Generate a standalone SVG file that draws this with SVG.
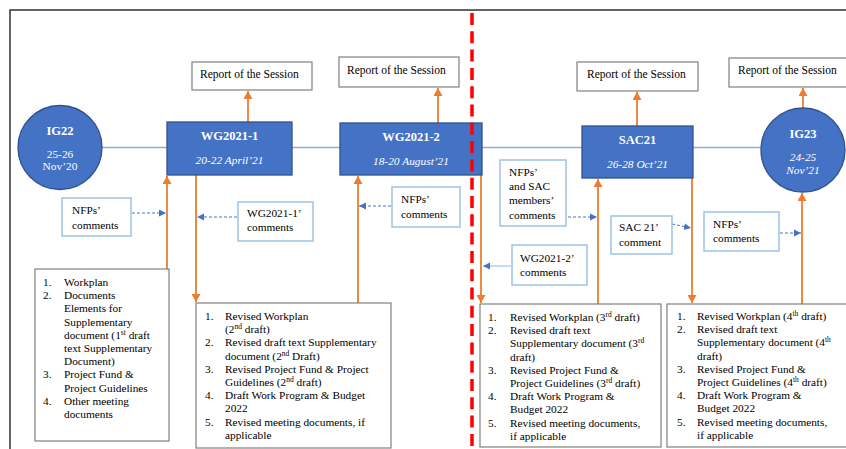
<svg xmlns="http://www.w3.org/2000/svg" width="846" height="449" viewBox="0 0 846 449">
<defs>
<style>
text{font-family:"Liberation Serif","Times New Roman",serif;fill:#000}
.t{font-size:11.3px}
.rep{font-size:11.5px}
.ttl{font-size:12.5px;font-weight:bold;fill:#fff;text-anchor:middle}
.dt{font-size:11.4px;font-style:italic;fill:#fff;text-anchor:middle}
.dtn{font-size:11.4px;fill:#fff;text-anchor:middle}
.node{fill:#4472C4;stroke:#2F528F;stroke-width:1.3}
.repbox{fill:#fff;stroke:#7F7F7F;stroke-width:1.2}
.cbox{fill:#fff;stroke:#9DC3E6;stroke-width:1.5}
.lbox{fill:#fff;stroke:#808080;stroke-width:1.2}
.or{stroke:#ED7D31;stroke-width:1.8;fill:none;marker-end:url(#ao)}
.bl{stroke:#4472C4;stroke-width:1;stroke-dasharray:3 2;fill:none;marker-end:url(#ab)}
.sup{font-size:7.5px}
</style>
<marker id="ao" markerUnits="userSpaceOnUse" markerWidth="9" markerHeight="9" refX="8" refY="4.5" orient="auto">
<path d="M0,0 L8,4.5 L0,9 Z" fill="#ED7D31"/>
</marker>
<marker id="ab" markerUnits="userSpaceOnUse" markerWidth="8" markerHeight="8" refX="7" refY="4" orient="auto">
<path d="M0,0.5 L7,4 L0,7.5 Z" fill="#4472C4"/>
</marker>
</defs>
<rect width="846" height="449" fill="#fff"/>
<path d="M10,449 V10 H846" fill="none" stroke="#333" stroke-width="1.5"/>
<line x1="102" y1="147.5" x2="762" y2="147.5" stroke="#8FAADC" stroke-width="1.3"/>

<g id="connectors">
<line class="or" x1="248" y1="122" x2="248" y2="91"/>
<line class="or" x1="438" y1="123" x2="438" y2="88"/>
<line class="or" x1="637" y1="126" x2="637" y2="92"/>
<line class="or" x1="803" y1="108" x2="803" y2="88"/>
<line class="or" x1="167" y1="269" x2="167" y2="176"/>
<line class="or" x1="196" y1="175" x2="196" y2="302"/>
<line class="or" x1="358" y1="303" x2="358" y2="176"/>
<line class="or" x1="481" y1="175" x2="481" y2="303"/>
<line class="or" x1="598" y1="304" x2="598" y2="179"/>
<line class="or" x1="692" y1="178" x2="692" y2="303"/>
<line class="or" x1="802" y1="304" x2="802" y2="193"/>
<line class="bl" x1="132" y1="213" x2="166" y2="213"/>
<line class="bl" x1="237" y1="217" x2="197" y2="217"/>
<line class="bl" x1="391" y1="206" x2="359" y2="206"/>
<line class="bl" x1="568" y1="217" x2="597" y2="217"/>
<line x1="511" y1="266" x2="483" y2="266" stroke="#9DC3E6" stroke-width="1.2" marker-end="url(#ab)"/>
<line class="bl" x1="672" y1="224" x2="691" y2="228"/>
<line class="bl" x1="780" y1="233" x2="801" y2="233"/>
</g>

<g id="ig22">
<circle class="node" cx="60" cy="147.5" r="42"/>
<text class="ttl" x="60" y="134.5">IG22</text>
<text class="dtn" x="60" y="157.5">25-26</text>
<text class="dtn" x="60" y="169.5">Nov’20</text>
</g>
<g id="wg1">
<rect class="node" x="167" y="122" width="125" height="53"/>
<text class="ttl" x="229.5" y="139.5">WG2021-1</text>
<text class="dt" x="229.5" y="163.5">20-22 April’21</text>
</g>
<g id="wg2">
<rect class="node" x="340" y="123" width="142" height="52"/>
<text class="ttl" x="411" y="141">WG2021-2</text>
<text class="dt" x="411" y="165">18-20 August’21</text>
</g>
<g id="sac21">
<rect class="node" x="582" y="126" width="111" height="52"/>
<text class="ttl" x="637.5" y="143.5">SAC21</text>
<text class="dt" x="637.5" y="167.5">26-28 Oct’21</text>
</g>
<g id="ig23">
<circle class="node" cx="803" cy="150" r="42"/>
<text class="ttl" x="803" y="137.5">IG23</text>
<text class="dt" x="803" y="161">24-25</text>
<text class="dt" x="803" y="174">Nov’21</text>
</g>

<g id="report1"><rect class="repbox" x="192" y="62" width="120" height="28"/><text class="rep" x="200" y="77.5">Report of the Session</text></g>
<g id="report2"><rect class="repbox" x="339" y="57" width="120" height="30"/><text class="rep" x="347" y="73.5">Report of the Session</text></g>
<g id="report3"><rect class="repbox" x="577" y="62" width="121" height="29"/><text class="rep" x="587" y="77.5">Report of the Session</text></g>
<g id="report4"><rect class="repbox" x="729" y="58" width="120" height="29"/><text class="rep" x="738" y="74">Report of the Session</text></g>

<g id="c1"><rect class="cbox" x="62" y="198" width="69" height="38"/><text class="t" x="72" y="214">NFPs’</text><text class="t" x="72" y="229">comments</text></g>
<g id="c2"><rect class="cbox" x="238" y="202" width="75" height="39"/><text class="t" x="247" y="217">WG2021-1’</text><text class="t" x="247" y="231">comments</text></g>
<g id="c3"><rect class="cbox" x="392" y="187" width="68" height="40"/><text class="t" x="401" y="203">NFPs’</text><text class="t" x="401" y="218">comments</text></g>
<g id="c4"><rect class="cbox" x="500" y="160" width="66" height="66"/><text class="t" x="509" y="176">NFPs’</text><text class="t" x="509" y="190">and SAC</text><text class="t" x="509" y="204">members’</text><text class="t" x="509" y="219">comments</text></g>
<g id="c5"><rect class="cbox" x="512" y="245" width="75" height="40"/><text class="t" x="520" y="262">WG2021-2’</text><text class="t" x="520" y="276">comments</text></g>
<g id="c6"><rect class="cbox" x="611" y="216" width="61" height="38"/><text class="t" x="619" y="231">SAC 21’</text><text class="t" x="619" y="246">comment</text></g>
<g id="c7"><rect class="cbox" x="704" y="212" width="75" height="39"/><text class="t" x="713" y="228">NFPs’</text><text class="t" x="713" y="242">comments</text></g>

<g id="list1">
<rect class="lbox" x="35" y="269" width="134" height="172"/>
<text class="t" x="43" y="286">1.</text><text class="t" x="64" y="286">Workplan</text>
<text class="t" x="43" y="299.2">2.</text><text class="t" x="64" y="299.2">Documents</text>
<text class="t" x="64" y="312.4">Elements for</text>
<text class="t" x="64" y="325.6">Supplementary</text>
<text class="t" x="64" y="338.8">document (1<tspan class="sup" dy="-4">st</tspan><tspan dy="4"> draft</tspan></text>
<text class="t" x="64" y="352">text Supplementary</text>
<text class="t" x="64" y="365.2">Document)</text>
<text class="t" x="43" y="378.4">3.</text><text class="t" x="64" y="378.4">Project Fund &amp;</text>
<text class="t" x="64" y="391.6">Project Guidelines</text>
<text class="t" x="43" y="404.8">4.</text><text class="t" x="64" y="404.8">Other meeting</text>
<text class="t" x="64" y="418">documents</text>
</g>

<g id="list2">
<rect class="lbox" x="196" y="303" width="195" height="145"/>
<text class="t" x="205" y="320">1.</text><text class="t" x="225" y="320">Revised Workplan</text>
<text class="t" x="225" y="333.2">(2<tspan class="sup" dy="-4">nd</tspan><tspan dy="4"> draft)</tspan></text>
<text class="t" x="205" y="346.4">2.</text><text class="t" x="225" y="346.4">Revised draft text Supplementary</text>
<text class="t" x="225" y="359.6">document (2<tspan class="sup" dy="-4">nd</tspan><tspan dy="4"> Draft)</tspan></text>
<text class="t" x="205" y="372.8">3.</text><text class="t" x="225" y="372.8">Revised Project Fund &amp; Project</text>
<text class="t" x="225" y="386">Guidelines (2<tspan class="sup" dy="-4">nd</tspan><tspan dy="4"> draft)</tspan></text>
<text class="t" x="205" y="399.2">4.</text><text class="t" x="225" y="399.2">Draft Work Program &amp; Budget</text>
<text class="t" x="225" y="412.4">2022</text>
<text class="t" x="205" y="425.6">5.</text><text class="t" x="225" y="425.6">Revised meeting documents, if</text>
<text class="t" x="225" y="438.8">applicable</text>
</g>

<g id="list3">
<rect class="lbox" x="480" y="304" width="181" height="143"/>
<text class="t" x="488" y="321">1.</text><text class="t" x="510" y="321">Revised Workplan (3<tspan class="sup" dy="-4">rd</tspan><tspan dy="4"> draft)</tspan></text>
<text class="t" x="488" y="334.2">2.</text><text class="t" x="510" y="334.2">Revised draft text</text>
<text class="t" x="510" y="347.4">Supplementary document (3<tspan class="sup" dy="-4">rd</tspan></text>
<text class="t" x="510" y="360.6">draft)</text>
<text class="t" x="488" y="373.8">3.</text><text class="t" x="510" y="373.8">Revised Project Fund &amp;</text>
<text class="t" x="510" y="387">Project Guidelines (3<tspan class="sup" dy="-4">rd</tspan><tspan dy="4"> draft)</tspan></text>
<text class="t" x="488" y="400.2">4.</text><text class="t" x="510" y="400.2">Draft Work Program &amp;</text>
<text class="t" x="510" y="413.4">Budget 2022</text>
<text class="t" x="488" y="426.6">5.</text><text class="t" x="510" y="426.6">Revised meeting documents,</text>
<text class="t" x="510" y="439.8">if applicable</text>
</g>

<g id="list4">
<rect class="lbox" x="667" y="304" width="185" height="143"/>
<text class="t" x="677" y="320">1.</text><text class="t" x="697" y="320">Revised Workplan (4<tspan class="sup" dy="-4">th</tspan><tspan dy="4"> draft)</tspan></text>
<text class="t" x="677" y="333.2">2.</text><text class="t" x="697" y="333.2">Revised draft text</text>
<text class="t" x="697" y="346.4">Supplementary document (4<tspan class="sup" dy="-4">th</tspan></text>
<text class="t" x="697" y="359.6">draft)</text>
<text class="t" x="677" y="372.8">3.</text><text class="t" x="697" y="372.8">Revised Project Fund &amp;</text>
<text class="t" x="697" y="386">Project Guidelines (4<tspan class="sup" dy="-4">th</tspan><tspan dy="4"> draft)</tspan></text>
<text class="t" x="677" y="399.2">4.</text><text class="t" x="697" y="399.2">Draft Work Program &amp;</text>
<text class="t" x="697" y="412.4">Budget 2022</text>
<text class="t" x="677" y="425.6">5.</text><text class="t" x="697" y="425.6">Revised meeting documents,</text>
<text class="t" x="697" y="438.8">if applicable</text>
</g>

<line x1="472" y1="13" x2="472" y2="449" stroke="#FF0000" stroke-width="3.5" stroke-dasharray="12 6.3"/>
</svg>
